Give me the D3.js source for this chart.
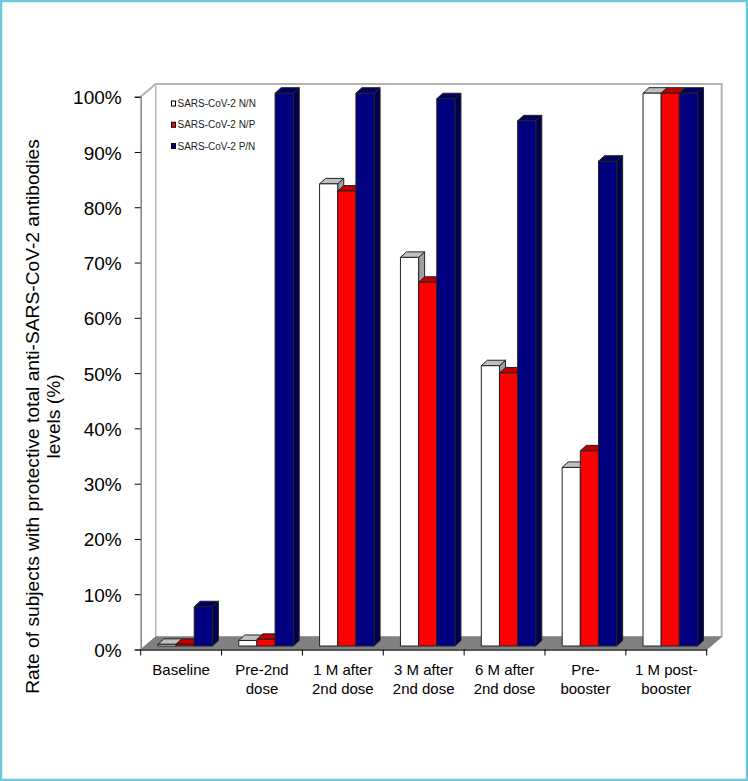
<!DOCTYPE html>
<html>
<head>
<meta charset="utf-8">
<script src="https://cdn.jsdelivr.net/npm/d3@7"></script>
<style>
  html, body { margin: 0; padding: 0; background: #fff; }
  svg { display: block; font-family: "Liberation Sans", Arial, sans-serif; }
</style>
</head>
<body>
<div id="chart"></div>
<script>
const categories = ["Baseline", "Pre-2nd dose", "1 M after 2nd dose", "3 M after 2nd dose", "6 M after 2nd dose", "Pre-booster", "1 M post-booster"];
const labelLines = [["Baseline"], ["Pre-2nd", "dose"], ["1 M after", "2nd dose"], ["3 M after", "2nd dose"], ["6 M after", "2nd dose"], ["Pre-", "booster"], ["1 M post-", "booster"]];
const seriesNames = ["SARS-CoV-2 N/N", "SARS-CoV-2 N/P", "SARS-CoV-2 P/N"];
const valuesNN = [0.3, 1, 83.6, 70.3, 50.7, 32.3, 100];
const valuesNP = [0.3, 1.2, 82.3, 65.8, 49.4, 35.3, 100];
const valuesPN = [7.1, 100, 100, 99, 95, 87.7, 100];
const yTicks = [0, 10, 20, 30, 40, 50, 60, 70, 80, 90, 100];
const yTitleLines = ["Rate of subjects with protective total anti-SARS-CoV-2 antibodies", "levels (%)"];

const width = 748, height = 781;
const plotLeft = 140.7, plotRight = 706.7, plotBottom = 649.5, plotTop = 96.7;
const depthX = 15, depthY = 12.7;   // wall/floor offset
const barDX = 4, barDY = 3.5;       // bars sit inside the floor
const capX = 6, capY = 5.5;         // bar's own depth

const seriesValues = [valuesNN, valuesNP, valuesPN];
const fronts = ["#ffffff", "#ff0000", "#000080"];
const caps = ["#c0c0c0", "#c00000", "#000060"];
const sides = ["#a0a0a0", "#800000", "#000050"];

const svg = d3.select("#chart").append("svg")
    .attr("width", width)
    .attr("height", height);

svg.append("rect")
    .attr("x", 1).attr("y", 1)
    .attr("width", width - 2).attr("height", height - 2)
    .attr("fill", "#fff")
    .attr("stroke", "#6cc9dc")
    .attr("stroke-width", 2.5);

const x = d3.scaleBand().domain(categories).range([plotLeft, plotRight]);
const xInner = d3.scaleBand().domain(seriesNames).range([0, 54.5]);
const y = d3.scaleLinear().domain([0, 100]).range([plotBottom, plotTop]);
const groupPad = (x.bandwidth() - xInner.range()[1]) / 2 + barDX;

// walls and floor
const wall = "#b4b4b4";
svg.append("path")
    .attr("d", d3.line()([[plotLeft, plotTop], [plotLeft + depthX, plotTop - depthY], [plotRight + depthX, plotTop - depthY], [plotRight + depthX, plotBottom - depthY]]))
    .attr("fill", "none").attr("stroke", wall).attr("stroke-width", 2);
svg.append("line")
    .attr("x1", plotLeft + depthX).attr("x2", plotLeft + depthX)
    .attr("y1", plotTop - depthY).attr("y2", plotBottom - depthY)
    .attr("stroke", wall).attr("stroke-width", 1.5);
svg.append("path")
    .attr("d", d3.line()([[plotLeft, plotBottom], [plotLeft + depthX, plotBottom - depthY], [plotRight + depthX, plotBottom - depthY], [plotRight, plotBottom]]) + "Z")
    .attr("fill", "#808080")
    .attr("stroke", "#808080");

// axes
const yAxis = d3.axisLeft(y).tickValues(yTicks).tickSize(6).tickFormat(d => d + "%");
const gy = svg.append("g").attr("transform", `translate(${plotLeft},0)`).call(yAxis);
gy.select(".domain").attr("stroke", "#808080").attr("stroke-width", 1.5);
gy.selectAll(".tick line").attr("stroke", "#000");
gy.selectAll(".tick text")
    .attr("x", -19)
    .attr("dy", "0.37em")
    .attr("font-family", "Liberation Sans")
    .attr("font-size", 19)
    .attr("fill", "#000");

const xAxis = d3.axisBottom(x).tickValues([]).tickSize(0);
svg.append("g").attr("transform", `translate(0,${plotBottom})`).call(xAxis)
    .select(".domain").attr("stroke", "#555").attr("stroke-width", 2);

svg.append("g").selectAll("line")
    .data(categories.concat("end"))
    .join("line")
    .attr("x1", d => d === "end" ? plotRight : x(d))
    .attr("x2", d => d === "end" ? plotRight : x(d))
    .attr("y1", plotBottom)
    .attr("y2", plotBottom + 6)
    .attr("stroke", "#000");

const labels = svg.append("g").selectAll("text")
    .data(categories)
    .join("text")
    .attr("text-anchor", "middle")
    .attr("font-size", 15)
    .attr("fill", "#000");
labels.selectAll("tspan")
    .data((d, i) => labelLines[i].map(t => ({ t, c: d })))
    .join("tspan")
    .attr("x", d => x(d.c) + x.bandwidth() / 2)
    .attr("y", (d, i) => 675 + i * 19)
    .text(d => d.t);

// bars, group by group so neighbours overlap like in the original
categories.forEach((cat, i) => {
    seriesNames.forEach((name, s) => {
        const x0 = x(cat) + groupPad + xInner(name);
        const x1 = x0 + xInner.bandwidth();
        const y0 = y(0) - barDY;
        const y1 = y(seriesValues[s][i]) - barDY;
        const g = svg.append("g")
            .attr("stroke", "#222")
            .attr("stroke-width", 1)
            .attr("stroke-linejoin", "round");
        g.append("path")
            .attr("d", d3.line()([[x1, y1], [x1 + capX, y1 - capY], [x1 + capX, y0 - capY], [x1, y0]]) + "Z")
            .attr("fill", sides[s]);
        g.append("path")
            .attr("d", d3.line()([[x0, y1], [x0 + capX, y1 - capY], [x1 + capX, y1 - capY], [x1, y1]]) + "Z")
            .attr("fill", caps[s]);
        g.append("rect")
            .attr("x", x0).attr("y", y1)
            .attr("width", x1 - x0).attr("height", y0 - y1)
            .attr("fill", fronts[s]);
    });
});

// legend
const legendY = d3.scalePoint().domain(seriesNames).range([103.5, 146]);
const legend = svg.append("g").selectAll("g")
    .data(seriesNames)
    .join("g")
    .attr("transform", d => `translate(171,${legendY(d)})`);
legend.append("rect")
    .attr("x", 0.5).attr("y", -2.5)
    .attr("width", 4).attr("height", 5)
    .attr("fill", (d, i) => fronts[i])
    .attr("stroke", "#000")
    .attr("stroke-width", 1);
legend.append("text")
    .attr("x", 6.5)
    .attr("y", 3.5)
    .attr("font-size", 10)
    .attr("fill", "#222")
    .text(d => d);

// y title
svg.append("g")
    .attr("transform", "translate(0,416.5) rotate(-90)")
    .selectAll("text")
    .data(yTitleLines)
    .join("text")
    .attr("text-anchor", "middle")
    .attr("x", 0)
    .attr("y", (d, i) => 39 + i * 21)
    .attr("font-size", 19.2)
    .attr("fill", "#000")
    .text(d => d);
</script>
</body>
</html>
